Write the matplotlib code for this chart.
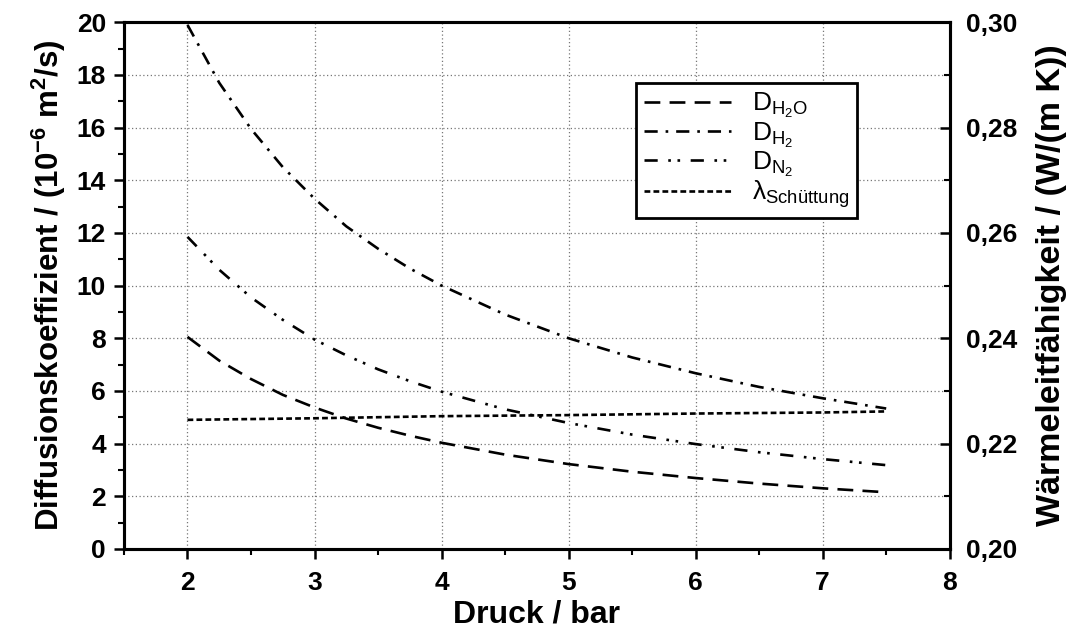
import matplotlib
matplotlib.use("Agg")
import matplotlib.pyplot as plt
from matplotlib.ticker import MultipleLocator, FuncFormatter

# Schrift: Arial-artig, fett für Achsen
fam = "Liberation Sans"
plt.rcParams["font.family"] = [fam, "DejaVu Sans"]
plt.rcParams["mathtext.fontset"] = "custom"
plt.rcParams["mathtext.rm"] = fam
plt.rcParams["mathtext.it"] = fam
plt.rcParams["mathtext.bf"] = fam + ":bold"

# Druck in bar
druck = [2.0, 2.25, 2.5, 2.75, 3.0, 3.25, 3.5, 3.75, 4.0, 4.5, 5.0, 5.5, 6.0, 6.5, 7.0, 7.5]

# Diffusionskoeffizienten in 10^-6 m^2/s
d_h2o = [8.05, 7.15, 6.45, 5.85, 5.37, 4.95, 4.60, 4.30, 4.03, 3.58, 3.22, 2.93, 2.69, 2.48, 2.30, 2.15]
d_h2 = [19.9, 17.7, 15.95, 14.5, 13.3, 12.25, 11.4, 10.65, 10.0, 8.9, 8.0, 7.27, 6.67, 6.15, 5.72, 5.33]
d_n2 = [11.85, 10.6, 9.55, 8.7, 7.95, 7.35, 6.82, 6.37, 5.97, 5.30, 4.78, 4.34, 3.98, 3.67, 3.41, 3.18]

# Wärmeleitfähigkeit der Schüttung in W/(m K)
druck_lam = [2.0, 3.0, 4.0, 5.0, 6.0, 7.0, 7.5]
lam = [0.2245, 0.2248, 0.2252, 0.2254, 0.2257, 0.2259, 0.2261]

fig = plt.figure(figsize=(10.78, 6.36), dpi=100)
ax = fig.add_axes([0.115, 0.137, 0.766, 0.828])
ax2 = ax.twinx()

lw = 1.9
l1, = ax.plot(druck, d_h2o, color="black", lw=lw, dashes=(6, 3.5))
l2, = ax.plot(druck, d_h2, color="black", lw=lw, dashes=(5, 3, 1, 3))
l3, = ax.plot(druck, d_n2, color="black", lw=lw, dashes=(5, 4, 1, 2.5, 1, 4))
l4, = ax2.plot(druck_lam, lam, color="black", lw=lw, dashes=(2.2, 1.2))

ax.set_xlim(1.5, 8)
ax.set_ylim(0, 20)
ax2.set_ylim(0.20, 0.30)

ax.xaxis.set_major_locator(MultipleLocator(1))
ax.xaxis.set_minor_locator(MultipleLocator(0.5))
ax.yaxis.set_major_locator(MultipleLocator(2))
ax.yaxis.set_minor_locator(MultipleLocator(1))
ax2.yaxis.set_major_locator(MultipleLocator(0.02))
ax2.yaxis.set_minor_locator(MultipleLocator(0.01))
ax2.yaxis.set_major_formatter(FuncFormatter(lambda v, p: f"{v:.2f}".replace(".", ",")))

ax.grid(True, which="major", color="#777777", ls=(0, (1, 2)), lw=0.9)

ax.tick_params(axis="both", which="major", direction="out", length=7, width=1.8,
               labelsize=19, pad=6)
ax.tick_params(axis="x", which="major", pad=9)
ax.tick_params(axis="both", which="minor", direction="out", length=4, width=1.5)
ax.tick_params(axis="y", right=False)
ax2.tick_params(axis="y", which="major", direction="in", length=7, width=1.8,
                labelsize=19, pad=12)
ax2.tick_params(axis="y", which="minor", direction="in", length=4, width=1.5)

for a in (ax, ax2):
    for s in a.spines.values():
        s.set_linewidth(2.2)
    for t in a.get_xticklabels() + a.get_yticklabels():
        t.set_fontweight("bold")

ax.set_xlabel("Druck / bar", fontsize=23, fontweight="bold", labelpad=3)
ax.set_ylabel(r"Diffusionskoeffizient / (10$^{\mathbf{-6}}$ m$^{\mathbf{2}}$/s)",
              fontsize=22.5, fontweight="bold", labelpad=6)
ax2.set_ylabel("Wärmeleitfähigkeit / (W/(m K))", fontsize=24.5, fontweight="bold", labelpad=13)

leg = ax2.legend([l1, l2, l3, l4],
                 [r"$\mathrm{D_{H_2O}}$", r"$\mathrm{D_{H_2}}$", r"$\mathrm{D_{N_2}}$",
                  r"$\mathrm{\lambda_{Schüttung}}$"],
                 loc="upper left", bbox_to_anchor=(0.62, 0.884), fontsize=19,
                 frameon=True, fancybox=False, framealpha=1, handlelength=3.3,
                 labelspacing=0.0, borderpad=0.3, handletextpad=0.8,
                 borderaxespad=0)
leg.get_frame().set_edgecolor("black")
leg.get_frame().set_linewidth(2.0)

fig.savefig("out.png", dpi=100)
